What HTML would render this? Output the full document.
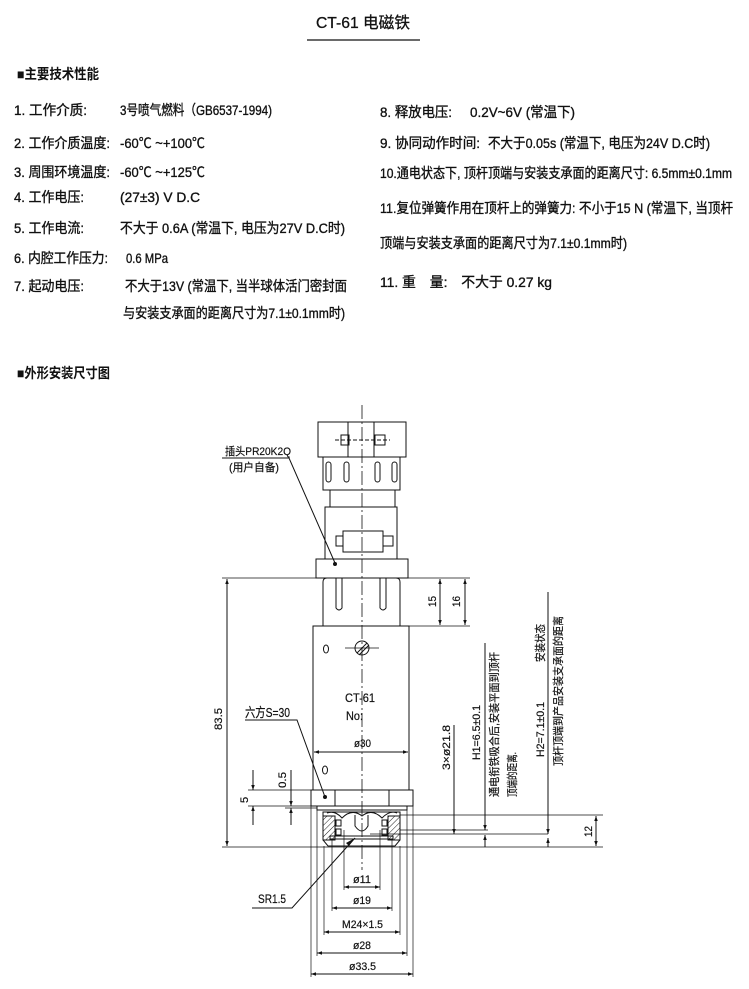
<!DOCTYPE html>
<html><head><meta charset="utf-8"><style>
html,body{margin:0;padding:0;background:#fff;}
svg{display:block;}
text{font-family:"Liberation Sans","Noto Sans CJK SC",sans-serif;fill:#111;}
.t{font-size:14px;}
.t text{stroke:#111;stroke-width:0.35;}
.s{font-size:11px;}
.s text{stroke:#111;stroke-width:0.2;}
</style></head><body>
<svg width="749" height="989" viewBox="0 0 749 989" xmlns="http://www.w3.org/2000/svg">
<defs>
<marker id="a" viewBox="0 0 10 10" refX="10" refY="5" markerWidth="8" markerHeight="5" orient="auto-start-reverse" markerUnits="userSpaceOnUse"><path d="M0,1.5L10,5L0,8.5z" fill="#111"/></marker>
<pattern id="h" width="4" height="4" patternUnits="userSpaceOnUse" patternTransform="rotate(45)"><line x1="0" y1="0" x2="0" y2="4" stroke="#222" stroke-width="1"/></pattern>
</defs>
<text x="316" y="28" textLength="94" lengthAdjust="spacingAndGlyphs" style="font-size:16px" stroke="#111" stroke-width="0.3">CT-61 电磁铁</text>
<line x1="307" y1="40" x2="420" y2="40" stroke="#111" stroke-width="1.2"/>
<text x="17" y="79" style="font-size:14px" textLength="82" lengthAdjust="spacingAndGlyphs" font-weight="bold">■主要技术性能</text>
<g class="t">
<text x="14" y="115" textLength="73" lengthAdjust="spacingAndGlyphs">1. 工作介质:</text>
<text x="120" y="115" textLength="152" lengthAdjust="spacingAndGlyphs">3号喷气燃料（GB6537-1994)</text>
<text x="14" y="148" textLength="96" lengthAdjust="spacingAndGlyphs">2. 工作介质温度:</text>
<text x="120" y="148" textLength="85" lengthAdjust="spacingAndGlyphs">-60℃ ~+100℃</text>
<text x="14" y="177" textLength="96" lengthAdjust="spacingAndGlyphs">3. 周围环境温度:</text>
<text x="120" y="177" textLength="85" lengthAdjust="spacingAndGlyphs">-60℃ ~+125℃</text>
<text x="14" y="202" textLength="70" lengthAdjust="spacingAndGlyphs">4. 工作电压:</text>
<text x="120" y="202" textLength="80" lengthAdjust="spacingAndGlyphs">(27±3) V D.C</text>
<text x="14" y="233" textLength="70" lengthAdjust="spacingAndGlyphs">5. 工作电流:</text>
<text x="120" y="233" textLength="225" lengthAdjust="spacingAndGlyphs">不大于 0.6A (常温下, 电压为27V D.C时)</text>
<text x="14" y="263" textLength="94" lengthAdjust="spacingAndGlyphs">6. 内腔工作压力:</text>
<text x="126" y="263" textLength="42" lengthAdjust="spacingAndGlyphs">0.6 MPa</text>
<text x="14" y="291" textLength="70" lengthAdjust="spacingAndGlyphs">7. 起动电压:</text>
<text x="125" y="291" textLength="222" lengthAdjust="spacingAndGlyphs">不大于13V (常温下, 当半球体活门密封面</text>
<text x="123" y="318" textLength="222" lengthAdjust="spacingAndGlyphs">与安装支承面的距离尺寸为7.1±0.1mm时)</text>
<text x="380" y="117" textLength="72" lengthAdjust="spacingAndGlyphs">8. 释放电压:</text>
<text x="470" y="117" textLength="105" lengthAdjust="spacingAndGlyphs">0.2V~6V (常温下)</text>
<text x="380" y="148" textLength="100" lengthAdjust="spacingAndGlyphs">9. 协同动作时间:</text>
<text x="488" y="148" textLength="222" lengthAdjust="spacingAndGlyphs">不大于0.05s (常温下, 电压为24V D.C时)</text>
<text x="380" y="178" textLength="352" lengthAdjust="spacingAndGlyphs">10.通电状态下, 顶杆顶端与安装支承面的距离尺寸: 6.5mm±0.1mm</text>
<text x="380" y="213" textLength="353" lengthAdjust="spacingAndGlyphs">11.复位弹簧作用在顶杆上的弹簧力: 不小于15 N (常温下, 当顶杆</text>
<text x="380" y="248" textLength="247" lengthAdjust="spacingAndGlyphs">顶端与安装支承面的距离尺寸为7.1±0.1mm时)</text>
<text x="380" y="287" textLength="172" lengthAdjust="spacingAndGlyphs">11. 重　量:　不大于 0.27 kg</text>
</g>
<text x="17" y="378" style="font-size:14px" textLength="93" lengthAdjust="spacingAndGlyphs" font-weight="bold">■外形安装尺寸图</text>

<g stroke="#111" stroke-width="1" fill="none">
<line x1="362" y1="405" x2="362" y2="870" stroke-dasharray="14,3,2,3" stroke-width="0.8"/>
<rect x="318" y="422" width="88" height="35"/>
<line x1="348" y1="422" x2="348" y2="457"/><line x1="374" y1="422" x2="374" y2="457"/>
<rect x="341" y="435" width="8" height="10"/><rect x="375" y="435" width="10" height="10"/>
<line x1="335" y1="440" x2="390" y2="440" stroke-dasharray="4,2"/>
<rect x="323" y="457" width="77" height="33"/>
<rect x="326" y="462" width="5" height="20" rx="2.5"/><rect x="344" y="462" width="5" height="20" rx="2.5"/>
<rect x="375" y="462" width="5" height="20" rx="2.5"/><rect x="392" y="462" width="5" height="20" rx="2.5"/>
<rect x="330" y="490" width="65" height="17"/>
<rect x="325" y="507" width="72" height="52"/>
<rect x="343" y="531" width="40" height="21"/>
<rect x="336" y="536" width="7" height="10"/><rect x="383" y="536" width="10" height="10"/>
<rect x="316" y="559" width="92" height="19"/>
<path d="M323,626 V582 Q323,578 327,578 H396 Q400,578 400,582 V626"/>
<path d="M336,578 V608 Q339,612 342,608 V578 M380,578 V608 Q383,612 386,608 V578"/>
<rect x="313" y="626" width="96" height="164"/>
<circle cx="362" cy="648" r="7"/><line x1="357" y1="653" x2="367" y2="643"/><line x1="359" y1="655" x2="369" y2="645"/>
<line x1="345" y1="648" x2="379" y2="648" stroke-width="0.7"/>
<ellipse cx="326" cy="649" rx="2.5" ry="4"/><ellipse cx="325" cy="770" rx="2.5" ry="4"/>
<line x1="314" y1="752" x2="408" y2="752" marker-start="url(#a)" marker-end="url(#a)"/>
<rect x="311" y="790" width="102" height="16"/>
<line x1="335" y1="790" x2="335" y2="806"/><line x1="389" y1="790" x2="389" y2="806"/>
<rect x="317" y="806" width="90" height="4"/>
<path d="M323,812 H400 V840 L395,846 H328 L323,840 Z"/>
<path d="M327,813 Q335,810 342,818 Q352,808 362,816 Q372,808 382,818 Q390,810 397,813"/>
<rect x="323" y="816" width="12" height="24" fill="url(#h)"/><rect x="388" y="816" width="12" height="24" fill="url(#h)"/>
<rect x="336" y="820" width="5" height="6"/><rect x="336" y="829" width="5" height="6"/>
<rect x="382" y="820" width="5" height="6"/><rect x="382" y="829" width="5" height="6"/>
<path d="M355,815 V826 Q362,836 368,826 V815"/>
<rect x="330" y="836" width="63" height="3"/>
<line x1="400" y1="815" x2="603" y2="815" stroke-width="0.7"/>
<line x1="400" y1="830" x2="488" y2="830" stroke-width="0.7"/>
<line x1="370" y1="834" x2="548" y2="834" stroke-width="0.7"/>
<line x1="222" y1="578" x2="470" y2="578" stroke-width="0.8"/>
<line x1="222" y1="847" x2="603" y2="847" stroke-width="0.8"/>
<line x1="227" y1="579" x2="227" y2="846" marker-start="url(#a)" marker-end="url(#a)"/>
<line x1="400" y1="626" x2="470" y2="626" stroke-width="0.8"/>
<line x1="440" y1="579" x2="440" y2="625" marker-start="url(#a)" marker-end="url(#a)"/>
<line x1="465" y1="579" x2="465" y2="625" marker-start="url(#a)" marker-end="url(#a)"/>
<line x1="248" y1="790" x2="311" y2="790" stroke-width="0.7"/>
<line x1="248" y1="806" x2="311" y2="806" stroke-width="0.7"/>
<line x1="285" y1="808" x2="317" y2="808" stroke-width="0.7"/>
<line x1="253" y1="770" x2="253" y2="790" marker-end="url(#a)"/><line x1="253" y1="825" x2="253" y2="806" marker-end="url(#a)"/>
<line x1="291" y1="770" x2="291" y2="806" marker-end="url(#a)"/><line x1="291" y1="825" x2="291" y2="808" marker-end="url(#a)"/>
<line x1="454" y1="725" x2="454" y2="834" marker-end="url(#a)"/>
<line x1="485" y1="643" x2="485" y2="830" marker-end="url(#a)"/>
<line x1="485" y1="847" x2="485" y2="835" marker-end="url(#a)" />
<line x1="548" y1="592" x2="548" y2="834" marker-end="url(#a)"/>
<line x1="548" y1="847" x2="548" y2="838" marker-end="url(#a)"/>
<line x1="596" y1="816" x2="596" y2="846" marker-start="url(#a)" marker-end="url(#a)"/>
<g stroke-width="0.7">
<line x1="344" y1="830" x2="344" y2="890"/><line x1="380" y1="830" x2="380" y2="890"/>
<line x1="332" y1="840" x2="332" y2="911"/><line x1="392" y1="840" x2="392" y2="911"/>
<line x1="324" y1="846" x2="324" y2="935"/><line x1="400" y1="846" x2="400" y2="935"/>
<line x1="317" y1="810" x2="317" y2="956"/><line x1="407" y1="810" x2="407" y2="956"/>
<line x1="311" y1="806" x2="311" y2="977"/><line x1="413" y1="806" x2="413" y2="977"/>
</g>
<line x1="344" y1="887" x2="380" y2="887" marker-start="url(#a)" marker-end="url(#a)"/>
<line x1="332" y1="908" x2="392" y2="908" marker-start="url(#a)" marker-end="url(#a)"/>
<line x1="324" y1="932" x2="400" y2="932" marker-start="url(#a)" marker-end="url(#a)"/>
<line x1="317" y1="953" x2="407" y2="953" marker-start="url(#a)" marker-end="url(#a)"/>
<line x1="311" y1="974" x2="413" y2="974" marker-start="url(#a)" marker-end="url(#a)"/>
<polyline points="222,458 289,458 335,563"/>
<polyline points="245,720 297,720 325,797"/>
<polyline points="252,908 292,908 355,838"/>
</g>
<circle cx="335" cy="564" r="2" fill="#111"/><circle cx="325" cy="797" r="2" fill="#111"/>
<path d="M355,838 L346,843 L349,846 Z" fill="#111"/>

<g class="s">
<text x="225" y="455" textLength="66" lengthAdjust="spacingAndGlyphs">插头PR20K2Q</text>
<text x="229" y="471" textLength="50" lengthAdjust="spacingAndGlyphs">(用户自备)</text>
<text x="245" y="717" textLength="45" lengthAdjust="spacingAndGlyphs" style="font-size:13px">六方S=30</text>
<text x="258" y="903" textLength="28" lengthAdjust="spacingAndGlyphs" style="font-size:12px">SR1.5</text>
<text x="345" y="702" textLength="30" lengthAdjust="spacingAndGlyphs" style="font-size:12px">CT-61</text>
<text x="346" y="720" textLength="17" lengthAdjust="spacingAndGlyphs" style="font-size:12px">No:</text>
<text x="354" y="747" textLength="17" lengthAdjust="spacingAndGlyphs">ø30</text>
<text x="353" y="883" textLength="18" lengthAdjust="spacingAndGlyphs">ø11</text>
<text x="353" y="904" textLength="18" lengthAdjust="spacingAndGlyphs">ø19</text>
<text x="342" y="928" textLength="41" lengthAdjust="spacingAndGlyphs">M24×1.5</text>
<text x="353" y="949" textLength="18" lengthAdjust="spacingAndGlyphs">ø28</text>
<text x="349" y="970" textLength="27" lengthAdjust="spacingAndGlyphs">ø33.5</text>
<text transform="translate(222,730) rotate(-90)" textLength="22" lengthAdjust="spacingAndGlyphs">83.5</text>
<text transform="translate(436,607) rotate(-90)" textLength="11" lengthAdjust="spacingAndGlyphs">15</text>
<text transform="translate(460,607) rotate(-90)" textLength="11" lengthAdjust="spacingAndGlyphs">16</text>
<text transform="translate(248,803) rotate(-90)">5</text>
<text transform="translate(286,788) rotate(-90)" textLength="16" lengthAdjust="spacingAndGlyphs">0.5</text>
<text transform="translate(592,837) rotate(-90)" textLength="11" lengthAdjust="spacingAndGlyphs">12</text>
<text transform="translate(450,770) rotate(-90)" textLength="45" lengthAdjust="spacingAndGlyphs">3×ø21.8</text>
<text transform="translate(480,760) rotate(-90)" textLength="55" lengthAdjust="spacingAndGlyphs">H1=6.5±0.1</text>
<text transform="translate(498,797) rotate(-90)" textLength="145" lengthAdjust="spacingAndGlyphs">通电衔铁吸合后,安装平面到顶杆</text>
<text transform="translate(516,797) rotate(-90)" textLength="45" lengthAdjust="spacingAndGlyphs">顶端的距离.</text>
<text transform="translate(544,757) rotate(-90)" textLength="55" lengthAdjust="spacingAndGlyphs">H2=7.1±0.1</text>
<text transform="translate(544,662) rotate(-90)" textLength="38" lengthAdjust="spacingAndGlyphs">安装状态</text>
<text transform="translate(562,766) rotate(-90)" textLength="150" lengthAdjust="spacingAndGlyphs">顶杆顶端到产品安装支承面的距离</text>
</g>
</svg>
</body></html>
